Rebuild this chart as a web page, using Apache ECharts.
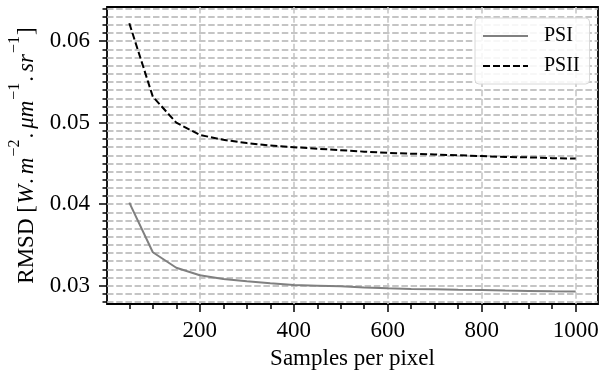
<!DOCTYPE html>
<html><head><meta charset="utf-8">
<script src="https://cdn.jsdelivr.net/npm/echarts@6/dist/echarts.min.js"></script>
<style>html,body{margin:0;padding:0;background:#fff}#c{width:600px;height:380px}</style>
</head><body><div id="c"></div>
<script>
const samples = [50,100,150,200,250,300,350,400,450,500,550,600,650,700,750,800,850,900,950,1000];
const psi  = [0.0402,0.0341,0.0322,0.03128,0.03082,0.03053,0.0303,0.03008,0.0300,0.02992,0.02978,0.02968,0.0296,0.02955,0.0295,0.02946,0.0294,0.02935,0.0293,0.02927];
const psii = [0.0622,0.0532,0.0500,0.0485,0.0479,0.0475,0.0472,0.0470,0.0468,0.04663,0.04645,0.0463,0.0462,0.0461,0.0460,0.0459,0.0458,0.04575,0.04565,0.0456];
const xMajor = [200,400,600,800,1000];
const xMinor = [50,100,150,250,300,350,450,500,550,650,700,750,850,900,950];
const yMajor = [0.03,0.04,0.05,0.06];
const yMinor = [];
for (let k = 28; k <= 64; k++) yMinor.push(k / 1000);
const seriesNames = ['PSI','PSII'];

const FONT = 'Liberation Serif';
const xMin = 2.5, xMax = 1047.5, yMin = 0.02775, yMax = 0.0642;

const chart = echarts.init(document.getElementById('c'), null, {renderer:'canvas'});
const gridDash = [6.5, 2.7];
chart.setOption({
  animation: false,
  backgroundColor: '#fff',
  grid: {left:107, right:2, top:7, bottom:76, show:true, borderColor:'#000', borderWidth:1.8, backgroundColor:'transparent', outerBoundsMode:'none'},
  legend: {
    orient:'vertical', left:475, top:18, padding:[8,10,8,7], itemGap:10,
    itemWidth:45, itemHeight:14,
    backgroundColor:'rgba(255,255,255,0.85)', borderColor:'#d8d8d8', borderWidth:1, borderRadius:4,
    itemStyle:{color:'rgba(0,0,0,0)', borderWidth:0, opacity:0},
    lineStyle:{width:2},
    textStyle:{fontFamily:FONT, fontSize:20, color:'#000', padding:[0,0,0,11]},
    data: seriesNames
  },
  xAxis: [{
    type:'value', min:xMin, max:xMax, position:'bottom',
    name:'Samples per pixel', nameLocation:'middle', nameGap:43,
    nameTextStyle:{fontFamily:FONT, fontSize:23, color:'#000'},
    axisLine:{show:false},
    axisTick:{show:true, customValues:xMajor, length:8, lineStyle:{color:'#000', width:1.5}},
    axisLabel:{customValues:xMajor, fontFamily:FONT, fontSize:23, color:'#000', margin:15,
      formatter: v => String(v)},
    splitLine:{show:true, lineStyle:{color:'#c4c4c4', width:1.5, type:gridDash}}
  },{
    type:'value', min:xMin, max:xMax, position:'bottom',
    axisLine:{show:false}, axisLabel:{show:false}, splitLine:{show:false},
    axisTick:{show:true, customValues:xMinor, length:5, lineStyle:{color:'#000', width:1.5}}
  }],
  yAxis: [{
    type:'value', min:yMin, max:yMax, position:'left',
    name:'{a|RMSD [}{i|W}{d|.}{i|m}{s|\u22122}{d|.}{i|\u03bcm}{s|\u22121}{d|.}{i|sr}{s|\u22121}{a|]}',
    nameLocation:'middle', nameGap:62, nameRotate:90,
    nameTextStyle:{fontFamily:FONT, fontSize:23, color:'#000',
      rich:{
        a:{fontFamily:FONT, fontSize:23, color:'#000', lineHeight:32, verticalAlign:'bottom'},
        d:{fontFamily:FONT, fontSize:23, color:'#000', lineHeight:32, verticalAlign:'bottom', padding:[0,3,0,0]},
        i:{fontFamily:FONT, fontSize:23, fontStyle:'italic', color:'#000', lineHeight:32, verticalAlign:'bottom', padding:[0,1,0,1]},
        s:{fontFamily:FONT, fontSize:16, color:'#000', lineHeight:32, verticalAlign:'top', padding:[0,1,0,0]}
      }},
    axisLine:{show:false},
    axisTick:{show:true, customValues:yMajor, length:8, lineStyle:{color:'#000', width:1.5}},
    axisLabel:{customValues:yMajor, fontFamily:FONT, fontSize:23, color:'#000', margin:17,
      formatter: v => v.toFixed(2)},
    splitLine:{show:false}
  },{
    type:'value', min:yMin, max:yMax, position:'left',
    axisLine:{show:false}, axisLabel:{show:false},
    axisTick:{show:true, customValues:yMinor, length:4.5, lineStyle:{color:'#000', width:1.5}},
    splitLine:{show:true, lineStyle:{color:'#b3b3b3', width:1.5, type:gridDash}}
  }],
  series: [
    {name:seriesNames[0], type:'line', xAxisIndex:0, yAxisIndex:0, symbol:'none',
     data: samples.map((x,i)=>[x, psi[i]]),
     lineStyle:{color:'#808080', width:2}, itemStyle:{color:'#808080'}, z:5},
    {name:seriesNames[1], type:'line', xAxisIndex:0, yAxisIndex:0, symbol:'none',
     data: samples.map((x,i)=>[x, psii[i]]),
     lineStyle:{color:'#000', width:2, type:[7,3]}, itemStyle:{color:'#000'}, z:5}
  ]
});
</script></body></html>
